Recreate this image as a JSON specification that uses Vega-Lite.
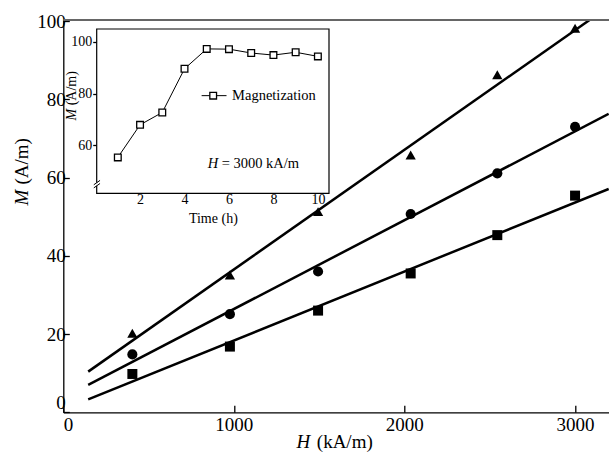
{
  "$schema": "https://vega.github.io/schema/vega-lite/v6.json",
  "width": 545.7,
  "height": 392.3,
  "autosize": {"type": "none"},
  "padding": {"left": 63.3, "top": 20, "right": 0, "bottom": 39.7},
  "background": "white",
  "config": {
    "view": {"stroke": null},
    "axis": {
      "labelFont": "Liberation Serif",
      "titleFont": "Liberation Serif",
      "labelFontSize": 19,
      "titleFontSize": 19,
      "titleFontWeight": "normal",
      "labelColor": "black",
      "titleColor": "black",
      "domainColor": "black",
      "tickColor": "black",
      "domainWidth": 1.3,
      "tickWidth": 1.3,
      "grid": false,
      "zindex": 1,
      "format": "d"
    },
    "text": {"font": "Liberation Serif", "color": "black"}
  },
  "datasets": {
    "one": [{}],
    "fit": [
      {"series": "5 h", "H": 146, "M": 10.4},
      {"series": "5 h", "H": 3086, "M": 100.3},
      {"series": "3 h", "H": 146, "M": 7.0},
      {"series": "3 h", "H": 3198, "M": 76.3},
      {"series": "1 h", "H": 146, "M": 3.3},
      {"series": "1 h", "H": 3198, "M": 57.1}
    ],
    "main": [
      {"series": "1 h", "H": 405, "M": 9.8},
      {"series": "1 h", "H": 977, "M": 16.8},
      {"series": "1 h", "H": 1494, "M": 26.0},
      {"series": "1 h", "H": 2037, "M": 35.5},
      {"series": "1 h", "H": 2545, "M": 45.3},
      {"series": "1 h", "H": 3001, "M": 55.4},
      {"series": "3 h", "H": 405, "M": 14.8},
      {"series": "3 h", "H": 977, "M": 25.1},
      {"series": "3 h", "H": 1494, "M": 36.0},
      {"series": "3 h", "H": 2037, "M": 50.7},
      {"series": "3 h", "H": 2545, "M": 61.1},
      {"series": "3 h", "H": 3001, "M": 73.0},
      {"series": "5 h", "H": 405, "M": 20.2},
      {"series": "5 h", "H": 977, "M": 35.1},
      {"series": "5 h", "H": 1494, "M": 51.3},
      {"series": "5 h", "H": 2037, "M": 65.8},
      {"series": "5 h", "H": 2545, "M": 86.3},
      {"series": "5 h", "H": 3001, "M": 98.2}
    ],
    "inset": [
      {"t": 1, "M": 55.3},
      {"t": 2, "M": 67.9},
      {"t": 3, "M": 72.7},
      {"t": 4, "M": 89.6},
      {"t": 5, "M": 97.3},
      {"t": 6, "M": 97.2},
      {"t": 7, "M": 95.7},
      {"t": 8, "M": 94.9},
      {"t": 9, "M": 96.0},
      {"t": 10, "M": 94.4}
    ]
  },
  "layer": [
    {
      "resolve": {"axis": {"x": "independent", "y": "independent"}},
      "layer": [
        {
          "data": {"name": "fit"},
          "mark": {"type": "line", "color": "black", "strokeWidth": 2.5},
          "encoding": {
            "x": {"field": "H", "type": "quantitative",
              "scale": {"domain": [0, 3200], "nice": false, "zero": false},
              "axis": {"orient": "bottom", "values": [0, 1000, 2000, 3000], "tickSize": -7, "labelPadding": 10,
                "title": "(kA/m)", "titleAlign": "left", "titleBaseline": "middle", "titleX": 253, "titleY": 29}},
            "y": {"field": "M", "type": "quantitative",
              "scale": {"domain": [0, 100.3], "nice": false, "zero": false},
              "axis": {"orient": "left", "values": [0, 20, 40, 60, 80, 100], "tickSize": -6, "labelPadding": 4, "labelFlush": 1,
                "title": "(A/m)", "titleAngle": -90, "titleAlign": "left", "titleBaseline": "middle", "titleX": -42.3, "titleY": 164}},
            "detail": {"field": "series"}
          }
        },
        {
          "data": {"name": "main"},
          "mark": {"type": "point", "filled": true, "color": "black", "size": 100, "opacity": 1},
          "encoding": {
            "x": {"field": "H", "type": "quantitative",
              "axis": {"orient": "bottom", "labels": false, "ticks": false, "domain": false,
                "title": "H", "titleFontStyle": "italic", "titleAlign": "left", "titleBaseline": "middle", "titleX": 232.7, "titleY": 29}},
            "y": {"field": "M", "type": "quantitative",
              "axis": {"orient": "left", "labels": false, "ticks": false, "domain": false,
                "title": "M", "titleFontStyle": "italic", "titleAngle": -90, "titleAlign": "left", "titleBaseline": "middle", "titleX": -42.3, "titleY": 185}},
            "shape": {"field": "series", "type": "nominal",
              "scale": {"domain": ["1 h", "3 h", "5 h"], "range": ["square", "circle", "triangle-up"]},
              "legend": {"orient": "none", "legendX": 455, "legendY": 302, "title": null,
                "labelFont": "Liberation Serif", "labelFontSize": 19, "labelColor": "black",
                "symbolSize": 110, "symbolFillColor": "black", "symbolStrokeColor": "black", "symbolStrokeWidth": 0,
                "rowPadding": 6, "labelOffset": 10}},
            "size": {"field": "series", "type": "nominal",
              "scale": {"domain": ["1 h", "3 h", "5 h"], "range": [100, 105, 155]}, "legend": null}
          }
        },
        {
          "data": {"name": "one"},
          "mark": {"type": "rule", "color": "#666666", "strokeWidth": 2},
          "encoding": {
            "y": {"datum": 100.3, "type": "quantitative", "axis": null}
          }
        }
      ]
    },
    {
      "resolve": {"axis": {"x": "independent", "y": "independent"}},
      "layer": [
        {
          "data": {"name": "one"},
          "mark": {"type": "rect", "fill": "white", "stroke": "black", "strokeWidth": 1.2},
          "encoding": {
            "x": {"datum": 0.05, "type": "quantitative",
              "scale": {"domain": [0.05, 10.5], "range": [33.4, 265.7], "nice": false, "zero": false}, "axis": null},
            "x2": {"datum": 10.5},
            "y": {"datum": 41.4, "type": "quantitative",
              "scale": {"domain": [41.4, 105], "range": [173.3, 9], "nice": false, "zero": false}, "axis": null},
            "y2": {"datum": 105}
          }
        },
        {
          "data": {"name": "one"},
          "mark": {"type": "rule", "color": "white", "strokeWidth": 2.5},
          "encoding": {
            "x": {"datum": 0.05, "type": "quantitative", "axis": null},
            "y": {"datum": 44.3, "type": "quantitative", "axis": null},
            "y2": {"datum": 45.5}
          }
        },
        {
          "data": {"name": "one"},
          "mark": {"type": "rule", "color": "black", "strokeWidth": 1},
          "encoding": {
            "x": {"datum": -0.08, "type": "quantitative", "axis": null},
            "x2": {"datum": 0.2},
            "y": {"datum": 44.7, "type": "quantitative", "axis": null},
            "y2": {"datum": 46.4}
          }
        },
        {
          "data": {"name": "one"},
          "mark": {"type": "rule", "color": "black", "strokeWidth": 1},
          "encoding": {
            "x": {"datum": -0.08, "type": "quantitative", "axis": null},
            "x2": {"datum": 0.2},
            "y": {"datum": 43.5, "type": "quantitative", "axis": null},
            "y2": {"datum": 45.2}
          }
        },
        {
          "data": {"name": "inset"},
          "mark": {"type": "line", "color": "black", "strokeWidth": 1},
          "encoding": {
            "x": {"field": "t", "type": "quantitative",
              "axis": {"orient": "bottom", "offset": -219, "values": [2, 4, 6, 8, 10], "tickSize": -4, "labelPadding": 3,
                "domain": false, "labelFontSize": 14, "titleFontSize": 14,
                "title": "Time (h)", "titleBaseline": "middle", "titleY": 25}},
            "y": {"field": "M", "type": "quantitative",
              "axis": {"orient": "left", "offset": -33.4, "values": [60, 80, 100], "tickSize": 4, "labelPadding": 1,
                "domain": false, "labelFontSize": 14, "titleFontSize": 14,
                "title": "(A/m)", "titleAngle": -90, "titleAlign": "left", "titleBaseline": "middle", "titleX": -25.7, "titleY": 84.8}}
          }
        },
        {
          "data": {"name": "inset"},
          "mark": {"type": "point", "shape": "square", "filled": true, "fill": "white", "stroke": "black", "strokeWidth": 1.3, "size": 45, "opacity": 1},
          "encoding": {
            "x": {"field": "t", "type": "quantitative", "axis": null},
            "y": {"field": "M", "type": "quantitative",
              "axis": {"orient": "left", "offset": -33.4, "labels": false, "ticks": false, "domain": false,
                "titleFontSize": 14, "title": "M", "titleFontStyle": "italic", "titleAngle": -90, "titleAlign": "left", "titleBaseline": "middle", "titleX": -25.7, "titleY": 100}}
          }
        },
        {
          "data": {"name": "one"},
          "mark": {"type": "rule", "color": "black", "strokeWidth": 1},
          "encoding": {
            "x": {"datum": 4.77, "type": "quantitative", "axis": null},
            "x2": {"datum": 5.89},
            "y": {"datum": 79.2, "type": "quantitative", "axis": null}
          }
        },
        {
          "data": {"name": "one"},
          "mark": {"type": "point", "shape": "square", "filled": true, "fill": "white", "stroke": "black", "strokeWidth": 1.3, "size": 45, "opacity": 1},
          "encoding": {
            "x": {"datum": 5.29, "type": "quantitative", "axis": null},
            "y": {"datum": 79.2, "type": "quantitative", "axis": null}
          }
        },
        {
          "data": {"name": "one"},
          "mark": {"type": "text", "align": "left", "baseline": "middle", "fontSize": 14.5, "text": "Magnetization"},
          "encoding": {
            "x": {"datum": 6.14, "type": "quantitative", "axis": null},
            "y": {"datum": 79.2, "type": "quantitative", "axis": null}
          }
        },
        {
          "data": {"name": "one"},
          "mark": {"type": "text", "align": "left", "baseline": "middle", "fontSize": 14.5, "fontStyle": "italic", "text": "H"},
          "encoding": {
            "x": {"datum": 5.05, "type": "quantitative", "axis": null},
            "y": {"datum": 52.8, "type": "quantitative", "axis": null}
          }
        },
        {
          "data": {"name": "one"},
          "mark": {"type": "text", "align": "left", "baseline": "middle", "fontSize": 14.5, "text": "= 3000 kA/m"},
          "encoding": {
            "x": {"datum": 5.67, "type": "quantitative", "axis": null},
            "y": {"datum": 52.8, "type": "quantitative", "axis": null}
          }
        }
      ]
    }
  ],
  "resolve": {
    "scale": {"x": "independent", "y": "independent"},
    "axis": {"x": "independent", "y": "independent"}
  }
}
